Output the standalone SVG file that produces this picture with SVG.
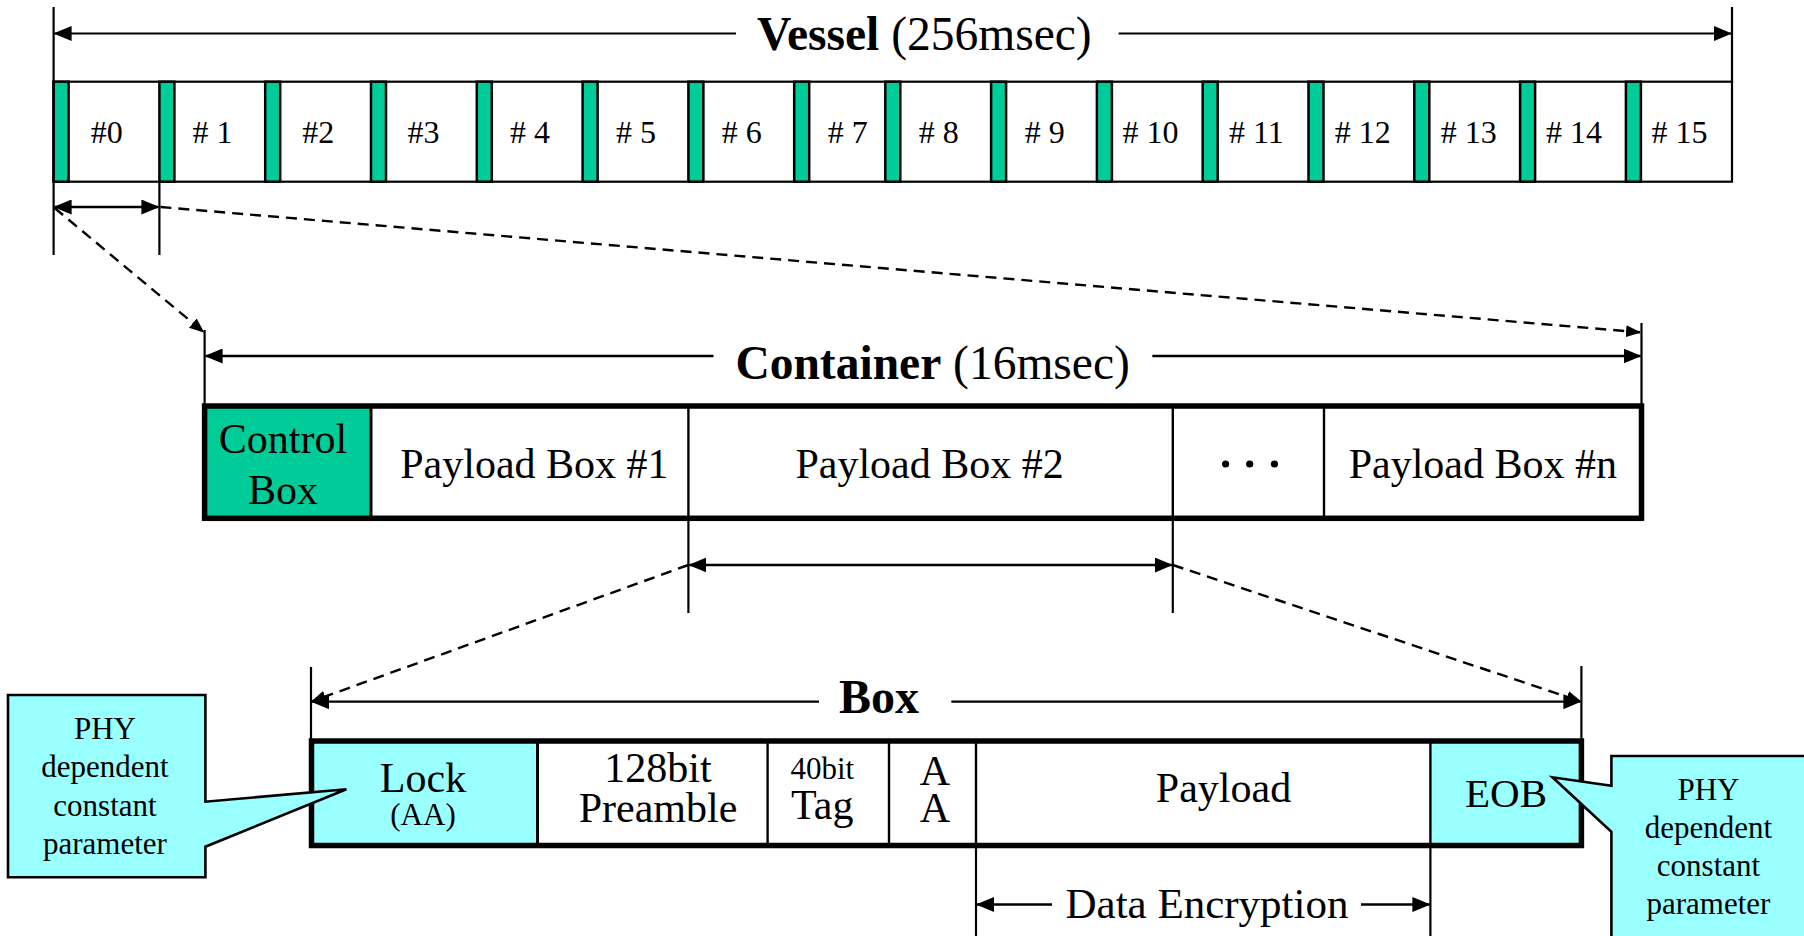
<svg xmlns="http://www.w3.org/2000/svg" width="1804" height="936" viewBox="0 0 1804 936">
<style>
text{font-family:"Liberation Serif","Times New Roman",serif;fill:#000}
.t{font-size:46.5px}
.b{font-weight:bold}
.cell{font-size:32px}
.lbl{font-size:42px;text-anchor:middle}
.sm{font-size:31px;text-anchor:middle}
.ln{stroke:#000;stroke-width:2.2;fill:none}
.ar{stroke:#000;stroke-width:2.6;fill:none;marker-end:url(#ah)}
.da{stroke:#000;stroke-width:2.4;fill:none;stroke-dasharray:11 7;marker-end:url(#dh)}
.g{fill:#00CC99;stroke:#000;stroke-width:2.5}
.cy{fill:#99FFFF}
.frame{fill:none;stroke:#000;stroke-width:5.5}
.div{stroke:#000;stroke-width:2.4}
</style>
<defs>
<marker id="ah" markerUnits="userSpaceOnUse" viewBox="0 0 18 15" refX="17" refY="7.5" markerWidth="18" markerHeight="15" orient="auto"><path d="M0,0 L18,7.5 L0,15 z" fill="#000"/></marker>
<marker id="dh" markerUnits="userSpaceOnUse" viewBox="0 0 15 12" refX="14" refY="6" markerWidth="15" markerHeight="12" orient="auto"><path d="M0,0 L15,6 L0,12 z" fill="#000"/></marker>
</defs>
<rect width="1804" height="936" fill="#fff"/>

<!-- Vessel -->
<g id="vessel">
<rect x="53.6" y="81.7" width="1678.4" height="100" fill="#fff" stroke="#000" stroke-width="2.2"/>
<g id="slot0"><rect class="g" x="53.6" y="81.7" width="15" height="100"/><text class="cell" x="90.7" y="143.3">#0</text></g>
<g id="slot1"><rect class="g" x="159.4" y="81.7" width="15" height="100"/><text class="cell" x="192.5" y="143.3"># 1</text></g>
<g id="slot2"><rect class="g" x="265.2" y="81.7" width="15" height="100"/><text class="cell" x="302.3" y="143.3">#2</text></g>
<g id="slot3"><rect class="g" x="371" y="81.7" width="15" height="100"/><text class="cell" x="407.6" y="143.3">#3</text></g>
<g id="slot4"><rect class="g" x="476.8" y="81.7" width="15" height="100"/><text class="cell" x="510" y="143.3"># 4</text></g>
<g id="slot5"><rect class="g" x="582.6" y="81.7" width="15" height="100"/><text class="cell" x="616" y="143.3"># 5</text></g>
<g id="slot6"><rect class="g" x="688.4" y="81.7" width="15" height="100"/><text class="cell" x="721.7" y="143.3"># 6</text></g>
<g id="slot7"><rect class="g" x="794.2" y="81.7" width="15" height="100"/><text class="cell" x="827.7" y="143.3"># 7</text></g>
<g id="slot8"><rect class="g" x="885.3" y="81.7" width="15" height="100"/><text class="cell" x="918.8" y="143.3"># 8</text></g>
<g id="slot9"><rect class="g" x="991.1" y="81.7" width="15" height="100"/><text class="cell" x="1024.8" y="143.3"># 9</text></g>
<g id="slot10"><rect class="g" x="1096.9" y="81.7" width="15" height="100"/><text class="cell" x="1122.4" y="143.3"># 10</text></g>
<g id="slot11"><rect class="g" x="1202.7" y="81.7" width="15" height="100"/><text class="cell" x="1228.9" y="143.3"># 11</text></g>
<g id="slot12"><rect class="g" x="1308.5" y="81.7" width="15" height="100"/><text class="cell" x="1334.8" y="143.3"># 12</text></g>
<g id="slot13"><rect class="g" x="1414.3" y="81.7" width="15" height="100"/><text class="cell" x="1440.8" y="143.3"># 13</text></g>
<g id="slot14"><rect class="g" x="1520.1" y="81.7" width="15" height="100"/><text class="cell" x="1545.9" y="143.3"># 14</text></g>
<g id="slot15"><rect class="g" x="1625.9" y="81.7" width="15" height="100"/><text class="cell" x="1651.5" y="143.3"># 15</text></g>
</g>
<g id="vessel-title"><text class="t" x="757" y="50" style="font-size:47.5px"><tspan class="b">Vessel</tspan> (256msec)</text></g>

<!-- Container -->
<g id="container">
<rect x="204.6" y="406" width="166.4" height="112.3" fill="#00CC99"/>
<rect x="204.6" y="406" width="1436.9" height="112.3" class="frame"/>
<line class="div" x1="371" y1="406" x2="371" y2="518.3" style="stroke-width:3"/>
<line class="div" x1="688.4" y1="406" x2="688.4" y2="518.3"/>
<line class="div" x1="1172.8" y1="406" x2="1172.8" y2="518.3"/>
<line class="div" x1="1324" y1="406" x2="1324" y2="518.3"/>
<g id="control-box"><text class="lbl" x="283" y="452.5">Control</text><text class="lbl" x="283" y="504">Box</text></g>
<g id="payload-box-1"><text class="lbl" x="534.4" y="478">Payload Box #1</text></g>
<g id="payload-box-2"><text class="lbl" x="929.6" y="478">Payload Box #2</text></g>
<g id="ellipsis"><circle cx="1225.6" cy="464" r="3.6"/><circle cx="1249.7" cy="464" r="3.6"/><circle cx="1274.4" cy="464" r="3.6"/></g>
<g id="payload-box-n"><text class="lbl" x="1482.8" y="478">Payload Box #n</text></g>
</g>
<g id="container-title"><text class="t" x="735.4" y="378.5" style="font-size:47.5px"><tspan class="b">Container</tspan> (16msec)</text></g>

<!-- Box -->
<g id="box">
<rect x="311.5" y="741" width="226" height="104.5" class="cy"/>
<rect x="1430.4" y="741" width="151" height="104.5" class="cy"/>
<line class="div" x1="537.5" y1="741" x2="537.5" y2="845.5" style="stroke-width:3"/>
<line class="div" x1="767.6" y1="741" x2="767.6" y2="845.5"/>
<line class="div" x1="889" y1="741" x2="889" y2="845.5"/>
<line class="div" x1="976" y1="741" x2="976" y2="845.5"/>
<line class="div" x1="1430.4" y1="741" x2="1430.4" y2="845.5"/>
<rect x="311.5" y="741" width="1269.9" height="104.5" class="frame"/>
<g id="lock"><text class="lbl" x="423" y="791.7">Lock</text><text class="sm" x="423" y="825">(AA)</text></g>
<g id="preamble"><text class="lbl" x="658" y="781.7">128bit</text><text class="lbl" x="658" y="822">Preamble</text></g>
<g id="tag"><text class="sm" x="822.3" y="779.3">40bit</text><text class="lbl" x="822.3" y="818.5">Tag</text></g>
<g id="aa"><text class="lbl" x="935" y="785">A</text><text class="lbl" x="935" y="822">A</text></g>
<g id="payload"><text class="lbl" x="1223.5" y="802">Payload</text></g>
<g id="eob"><text class="lbl" x="1506" y="806.7" style="font-size:41px">EOB</text></g>
</g>
<g id="box-title"><text class="t b" x="839" y="712.7" style="font-size:48px">Box</text></g>
<g id="data-encryption"><text x="1207" y="918" style="font-size:43px;text-anchor:middle">Data Encryption</text></g>

<!-- Callouts -->
<g id="callout-left">
<path d="M8,695 H205.4 V801.7 L346.4,789.3 L205.4,846.7 V877.3 H8 Z" class="cy" stroke="#000" stroke-width="2.6"/>
<text class="sm" x="105" y="738.5">PHY</text>
<text class="sm" x="105" y="777">dependent</text>
<text class="sm" x="105" y="815.5">constant</text>
<text class="sm" x="105" y="854">parameter</text>
</g>
<g id="callout-right">
<path d="M1611.4,756 H1812 V944 H1611.4 V831.7 L1552.5,777.3 L1611.4,785.7 Z" class="cy" stroke="#000" stroke-width="2.6"/>
<text class="sm" x="1708.5" y="799.5">PHY</text>
<text class="sm" x="1708.5" y="837.5">dependent</text>
<text class="sm" x="1708.5" y="875.5">constant</text>
<text class="sm" x="1708.5" y="913.5">parameter</text>
</g>

<!-- Connectors -->
<g id="connectors">
<line class="ln" x1="53.6" y1="7" x2="53.6" y2="255"/>
<line class="ln" x1="1732" y1="7" x2="1732" y2="82"/>
<line class="ar" x1="736" y1="33.5" x2="54.6" y2="33.5" style="stroke-width:2.2"/>
<line class="ar" x1="1118.6" y1="33.5" x2="1731" y2="33.5" style="stroke-width:2.2"/>
<line class="ln" x1="159.4" y1="181.7" x2="159.4" y2="255"/>
<line class="ar" x1="100" y1="207" x2="54.6" y2="207"/>
<line class="ar" x1="100" y1="207" x2="158.4" y2="207"/>
<line class="da" x1="54.6" y1="208" x2="203.6" y2="332"/>
<line class="da" x1="160.4" y1="207" x2="1640" y2="332.3"/>
<line class="ln" x1="204.6" y1="330" x2="204.6" y2="406"/>
<line class="ln" x1="1641.5" y1="323" x2="1641.5" y2="406"/>
<line class="ar" x1="713.5" y1="356" x2="205.6" y2="356"/>
<line class="ar" x1="1152.3" y1="356" x2="1640.5" y2="356"/>
<line class="ln" x1="688.4" y1="518" x2="688.4" y2="613"/>
<line class="ln" x1="1172.8" y1="518" x2="1172.8" y2="613"/>
<line class="ar" x1="930" y1="565" x2="689.4" y2="565"/>
<line class="ar" x1="930" y1="565" x2="1171.8" y2="565"/>
<line class="da" x1="688.4" y1="565" x2="312" y2="701.3"/>
<line class="da" x1="1172.8" y1="565" x2="1580.4" y2="701.3"/>
<line class="ln" x1="311" y1="667" x2="311" y2="741"/>
<line class="ln" x1="1581.4" y1="666" x2="1581.4" y2="741"/>
<line class="ar" x1="819" y1="701.7" x2="312" y2="701.7" style="stroke-width:2.2"/>
<line class="ar" x1="951.3" y1="701.7" x2="1580.4" y2="701.7" style="stroke-width:2.2"/>
<line class="ln" x1="976" y1="845" x2="976" y2="936"/>
<line class="ln" x1="1430.4" y1="845" x2="1430.4" y2="936"/>
<line class="ar" x1="1052" y1="904.5" x2="977" y2="904.5"/>
<line class="ar" x1="1361" y1="904.5" x2="1429.4" y2="904.5"/>
</g>
</svg>
